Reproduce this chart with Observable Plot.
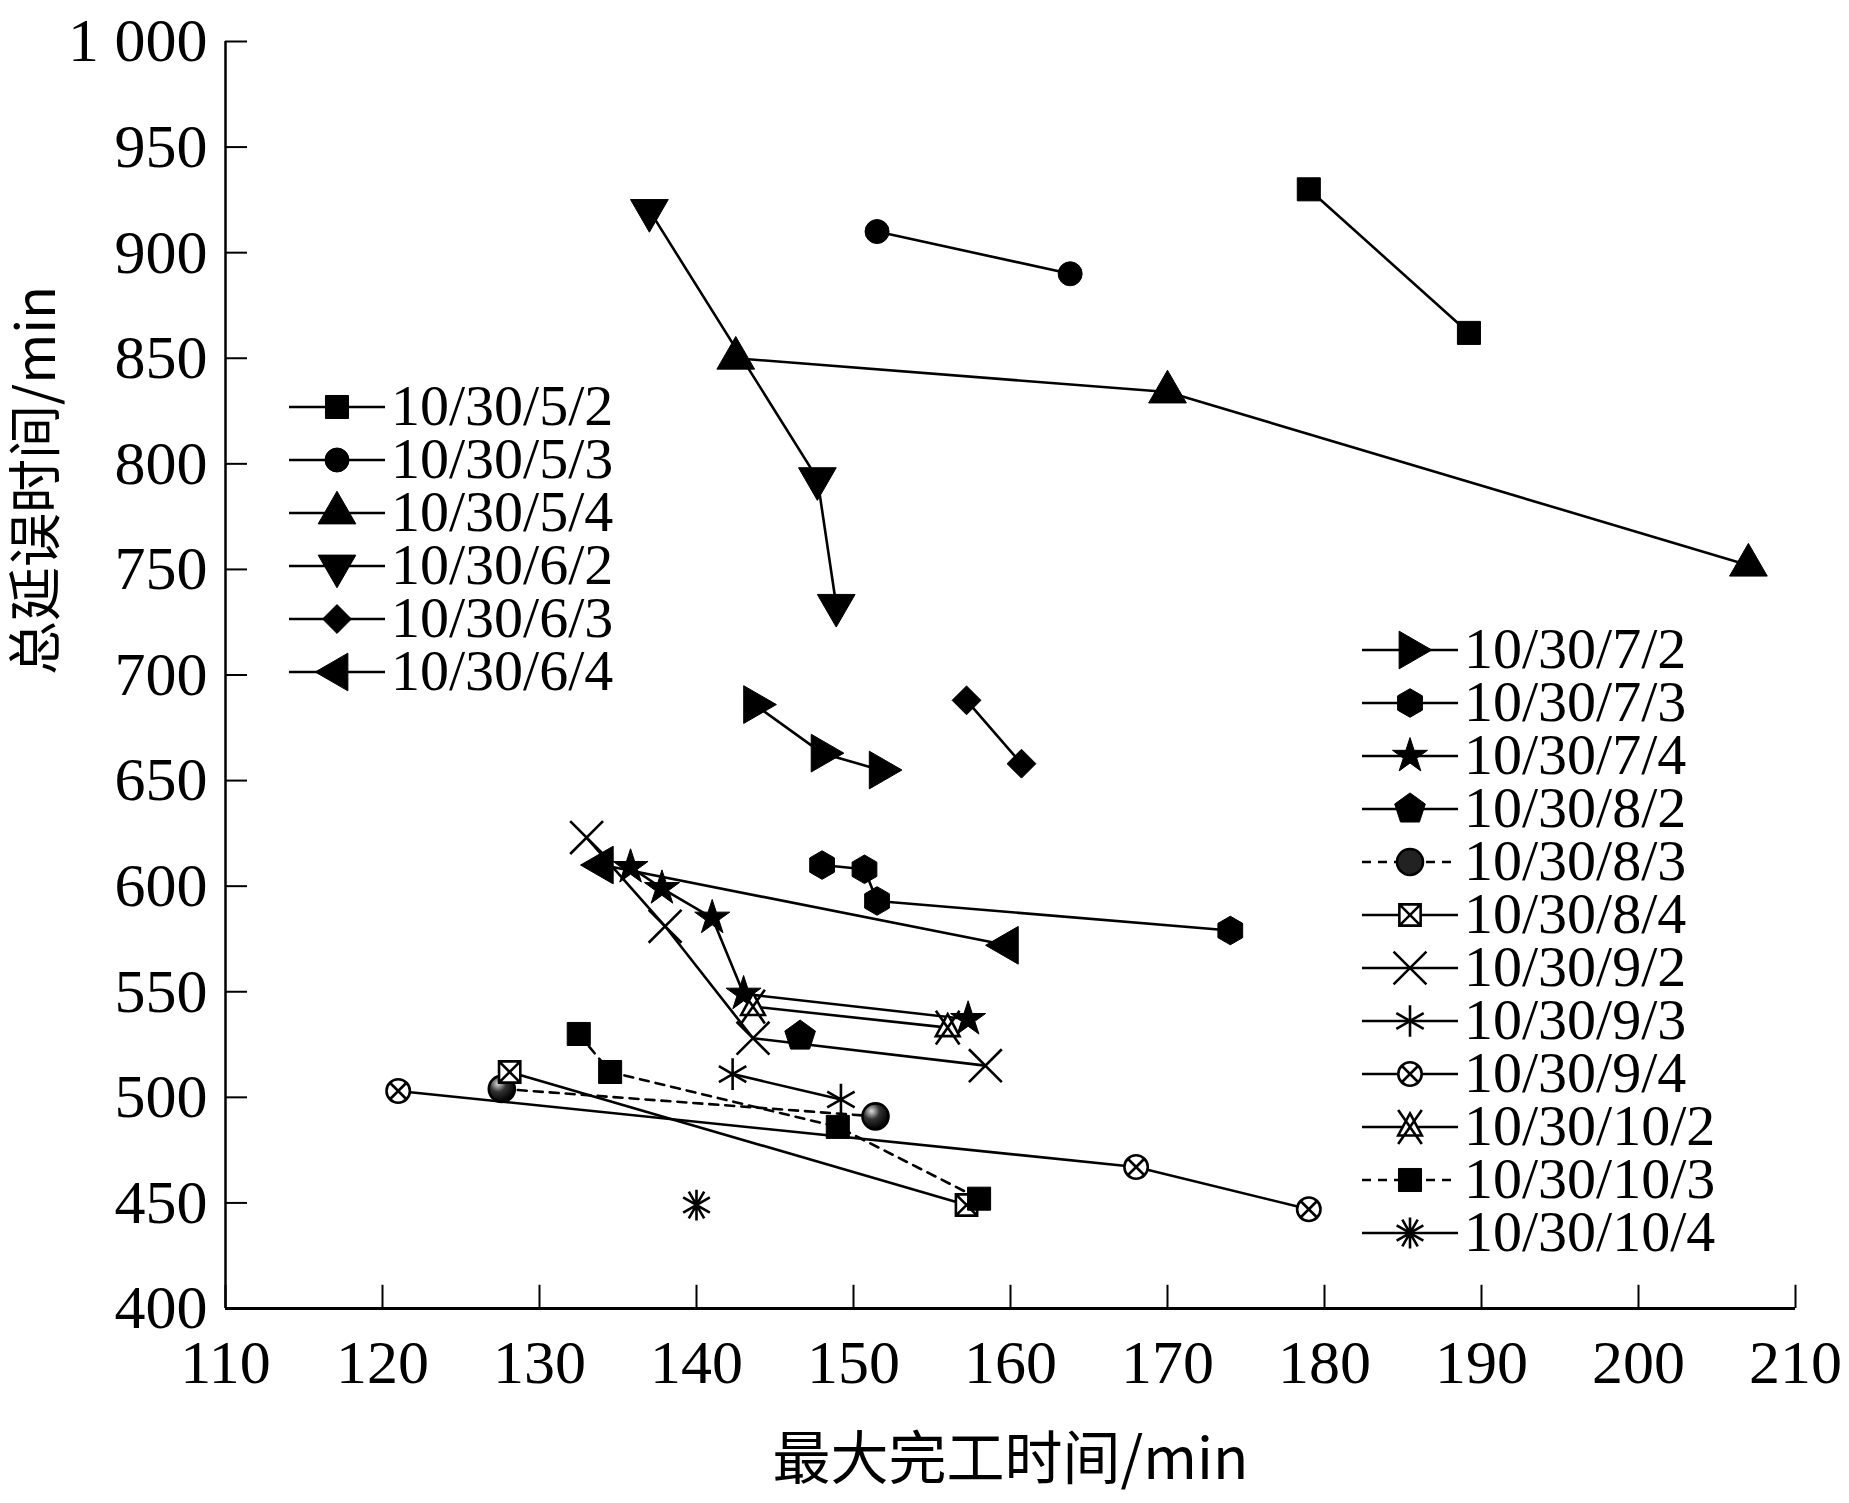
<!DOCTYPE html><html><head><meta charset="utf-8">
<script src="https://cdn.jsdelivr.net/npm/d3@7"></script>
<script src="https://cdn.jsdelivr.net/npm/@observablehq/plot@0.6"></script>
<style>body{margin:0;background:#fff}#wrap{position:relative;width:1849px;height:1503px}
.leg{position:absolute;font-family:"Liberation Serif","DejaVu Serif",serif;font-size:58px;line-height:53px}
.leg div{display:flex;align-items:center;height:53px;overflow:visible}.leg svg{overflow:visible}</style></head><body>
<div id="wrap"></div>
<script>
const seriesNames=["10/30/5/2","10/30/5/3","10/30/5/4","10/30/6/2","10/30/6/3","10/30/6/4","10/30/7/2","10/30/7/3","10/30/7/4","10/30/8/2","10/30/8/3","10/30/8/4","10/30/9/2","10/30/9/3","10/30/9/4","10/30/10/2","10/30/10/3","10/30/10/4"];
const xVals=[[179,189.2],[151.5,163.8],[142.5,170,207],[137,147.7,148.9],[157.2,160.7],[134,159.8],[143.7,148,151.7],[148,150.7,151.5,174],[135.8,137.8,141,143,157.3],[146.6],[127.6,151.4],[128.1,157.2],[133,138,143.6,158.4],[142.3,149.2],[121,168,179],[143.6,156],[132.5,134.5,149,158],[140]];
const yVals=[[930,862],[910,890],[850,834,752],[920,793,733],[688,658],[610,572],[686,663,655],[610,608,593,579],[609,599,585,549,537],[529],[504,491],[512,449],[623,581,528,515],[511,499],[503,467,447],[543,533],[530,512,486,452],[449]];
const xTicks=[110,120,130,140,150,160,170,180,190,200,210];
const yTicks=[400,450,500,550,600,650,700,750,800,850,900,950,1000];
const yTickLabels=["400","450","500","550","600","650","700","750","800","850","900","950","1 000"];

const poly=(n,rot)=>({draw(c,s){const r=Math.sqrt(s/(n*Math.sin(2*Math.PI/n)/2));for(let i=0;i<n;i++){const a=rot+2*Math.PI*i/n;const x=r*Math.cos(a),y=r*Math.sin(a);i?c.lineTo(x,y):c.moveTo(x,y);}c.closePath();}});
const hexagon=poly(6,-Math.PI/2), pentagon=poly(5,-Math.PI/2);
const squareX={draw(c,s){const h=Math.sqrt(s)/2;c.moveTo(-h,-h);c.lineTo(h,-h);c.lineTo(h,h);c.lineTo(-h,h);c.closePath();c.moveTo(-h,-h);c.lineTo(h,h);c.moveTo(h,-h);c.lineTo(-h,h);}};
const circleX={draw(c,s){const r=Math.sqrt(s/Math.PI)*0.9;c.moveTo(r,0);c.arc(0,0,r,0,2*Math.PI);const d=r*0.75;c.moveTo(-d,-d);c.lineTo(d,d);c.moveTo(d,-d);c.lineTo(-d,d);}};
const triX={draw(c,s){const r=Math.sqrt(s/Math.PI)*1.3;c.moveTo(0,-r*0.8);c.lineTo(r*0.7,r*0.5);c.lineTo(-r*0.7,r*0.5);c.closePath();c.moveTo(-r*0.7,-r);c.lineTo(r*0.7,r);c.moveTo(r*0.7,-r);c.lineTo(-r*0.7,r);}};
const ast2={draw(c,s){const r=Math.sqrt(s/Math.PI)*1.1;c.moveTo(0,-r);c.lineTo(0,r);for(const a of [-60,-30,30,60]){const t=a*Math.PI/180;c.moveTo(-r*Math.sin(t),-r*Math.cos(t));c.lineTo(r*Math.sin(t),r*Math.cos(t));}}};
const styles=[
 {symbol:"square",fill:"black",rotate:0,r:13},
 {symbol:"circle",fill:"black",rotate:0,r:12},
 {symbol:"triangle",fill:"black",rotate:0,r:14},
 {symbol:"triangle",fill:"black",rotate:180,r:14},
 {symbol:"diamond2",fill:"black",rotate:0,r:13},
 {symbol:"triangle",fill:"black",rotate:-90,r:14},
 {symbol:"triangle",fill:"black",rotate:90,r:14},
 {symbol:hexagon,fill:"black",rotate:0,r:13},
 {symbol:"star",fill:"black",rotate:0,r:11},
 {symbol:pentagon,fill:"black",rotate:0,r:14},
 {symbol:"circle",fill:"url(#sph)",rotate:0,r:13,dash:true},
 {symbol:squareX,fill:"white",rotate:0,r:12},
 {symbol:"times",fill:"none",rotate:0,r:15},
 {symbol:"asterisk",fill:"none",rotate:0,r:15},
 {symbol:circleX,fill:"white",rotate:0,r:13},
 {symbol:triX,fill:"white",rotate:0,r:13},
 {symbol:"square",fill:"black",rotate:0,r:13,dash:true},
 {symbol:ast2,fill:"none",rotate:0,r:14}];

const marks=[];
seriesNames.forEach((n,i)=>{
 const d=xVals[i].map((x,j)=>({x,y:yVals[i][j]}));
 const st=styles[i];
 if(d.length>1) marks.push(Plot.line(d,{x:"x",y:"y",stroke:"black",strokeWidth:2.6,strokeDasharray:st.dash?"9,7":null}));
 marks.push(Plot.dot(d,{x:"x",y:"y",symbol:st.symbol,fill:st.fill,stroke:"black",strokeWidth:st.fill==="black"?1:2.6,rotate:st.rotate,r:st.r}));
});
marks.push(Plot.ruleX(xTicks,{y1:400,y2:411,stroke:"black",strokeWidth:2}));
marks.push(Plot.ruleY(yTicks,{x1:110,x2:111.4,stroke:"black",strokeWidth:2}));
marks.push(Plot.ruleX([110],{stroke:"black",strokeWidth:2.5}));
marks.push(Plot.ruleY([400],{stroke:"black",strokeWidth:3}));

const chart=Plot.plot({width:1849,height:1503,marginLeft:225,marginRight:54,marginTop:41,marginBottom:195,
 style:{fontFamily:"'Liberation Serif','DejaVu Serif',serif",fontSize:"62px",color:"black",background:"white"},
 x:{domain:[110,210],ticks:xTicks,tickSize:0,tickPadding:30,label:null},
 y:{domain:[400,1000],ticks:yTicks,tickSize:0,tickPadding:18,tickFormat:(d,i)=>yTickLabels[i],label:null},
 marks:[...marks,
  Plot.text(["最大完工时间/min"],{frameAnchor:"bottom",dy:170,fontSize:58,fontFamily:"'Noto Sans CJK SC',serif"}),
  Plot.text(["总延误时间/min"],{frameAnchor:"left",dx:-188,rotate:-90,fontSize:54,fontFamily:"'Noto Sans CJK SC',serif"})]});
const svg=d3.select(chart);
const g=svg.insert("defs",":first-child").append("radialGradient").attr("id","sph").attr("cx","35%").attr("cy","30%").attr("r","70%");
g.append("stop").attr("offset","0%").attr("stop-color","#ddd");g.append("stop").attr("offset","45%").attr("stop-color","#333");g.append("stop").attr("offset","100%").attr("stop-color","#000");
const wrap=document.getElementById("wrap");wrap.appendChild(chart);

function legend(idx,left,top){
 const div=document.createElement("div");div.className="leg";div.style.left=left+"px";div.style.top=top+"px";
 idx.forEach(i=>{const st=styles[i];const row=document.createElement("div");
  const s=d3.create("svg").attr("width",96).attr("height",53);
  s.append("line").attr("x1",0).attr("x2",96).attr("y1",28).attr("y2",28).attr("stroke","black").attr("stroke-width",2.6).attr("stroke-dasharray",st.dash?"9,7":null);
  const sym=typeof st.symbol==="string"?{square:d3.symbolSquare,circle:d3.symbolCircle,triangle:d3.symbolTriangle,diamond2:d3.symbolDiamond2,star:d3.symbolStar,times:d3.symbolTimes,asterisk:d3.symbolAsterisk}[st.symbol]:st.symbol;
  s.append("path").attr("d",d3.symbol(sym,Math.PI*st.r*st.r)()).attr("transform",`translate(48,28) rotate(${st.rotate})`)
   .attr("fill",st.fill==="url(#sph)"?"#222":st.fill).attr("stroke","black").attr("stroke-width",st.fill==="black"?1:2.6);
  row.appendChild(s.node());const t=document.createElement("span");t.textContent=seriesNames[i];t.style.marginLeft="6px";row.appendChild(t);div.appendChild(row);});
 wrap.appendChild(div);
}
legend([0,1,2,3,4,5],289,379);
legend([6,7,8,9,10,11,12,13,14,15,16,17],1362,622);
</script></body></html>
